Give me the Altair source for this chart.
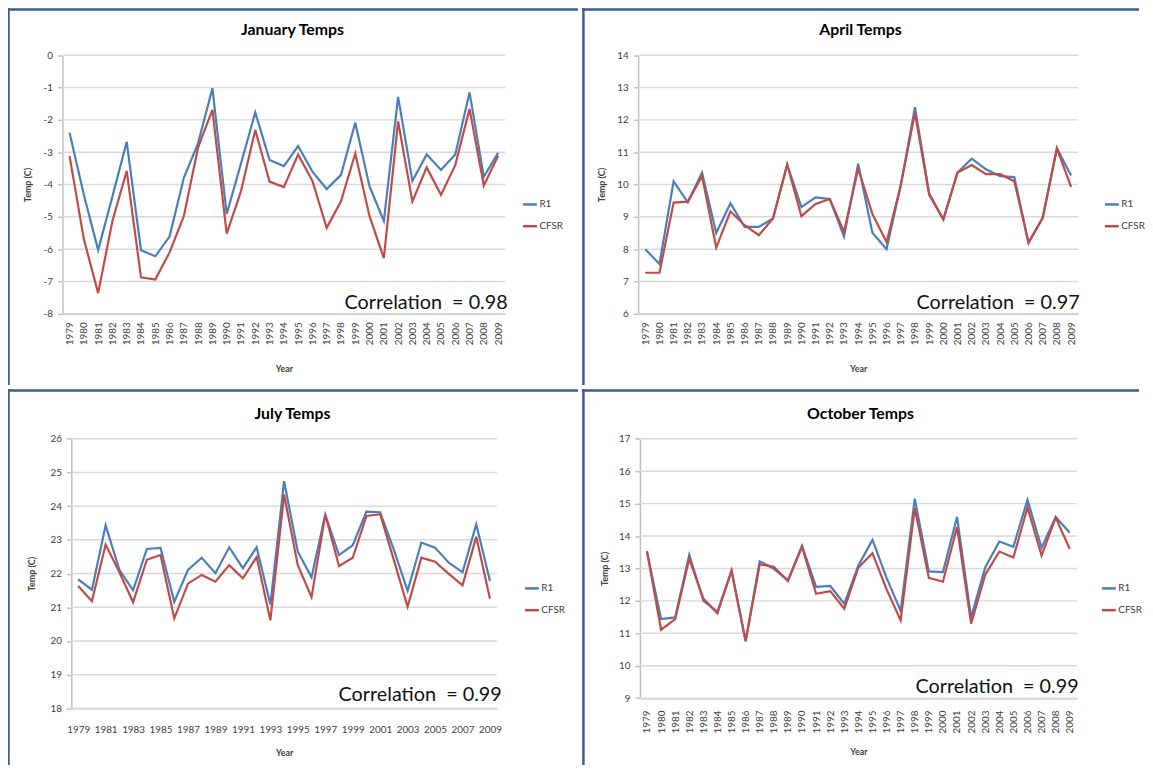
import altair as alt
import pandas as pd

FONT = "Lato"
BORDER = "#3A5F8F"
GRID = "#D9D9D9"
AXIS = "#BFBFBF"
TXT = "#404040"

years = list(range(1979, 2010))
series_names = ["R1", "CFSR"]
series_colors = ["#4A7EBB", "#BE4B48"]

jan_ticks = [-8, -7, -6, -5, -4, -3, -2, -1, 0]
apr_ticks = [6, 7, 8, 9, 10, 11, 12, 13, 14]
jul_ticks = [18, 19, 20, 21, 22, 23, 24, 25, 26]
oct_ticks = [9, 10, 11, 12, 13, 14, 15, 16, 17]

jan_r1 = [-2.40, -4.32, -6.03, -4.37, -2.68, -6.03, -6.22, -5.61, -3.79, -2.72, -1.02,
          -4.91, -3.35, -1.77, -3.24, -3.43, -2.81, -3.60, -4.14, -3.70, -2.09, -4.06,
          -5.13, -1.29, -3.89, -3.07, -3.55, -3.07, -1.15, -3.76, -3.02]
jan_cfsr = [-3.12, -5.69, -7.36, -5.13, -3.58, -6.87, -6.94, -6.10, -4.98, -2.85, -1.69,
            -5.52, -4.21, -2.31, -3.91, -4.08, -3.07, -3.89, -5.34, -4.52, -3.04, -4.98,
            -6.28, -2.05, -4.52, -3.47, -4.32, -3.40, -1.66, -4.03, -3.11]

apr_r1 = [8.00, 7.54, 10.10, 9.45, 10.37, 8.50, 9.42, 8.69, 8.69, 8.95, 10.62,
          9.30, 9.60, 9.55, 8.39, 10.64, 8.51, 8.00, 9.98, 12.39, 9.73, 8.92,
          10.37, 10.80, 10.47, 10.26, 10.23, 8.20, 8.97, 11.12, 10.28]
apr_cfsr = [7.27, 7.27, 9.44, 9.47, 10.26, 8.05, 9.17, 8.74, 8.43, 8.95, 10.62,
            9.02, 9.40, 9.55, 8.53, 10.49, 9.09, 8.22, 9.98, 12.22, 9.68, 8.92,
            10.37, 10.60, 10.32, 10.32, 10.10, 8.20, 8.97, 11.12, 9.93]

jul_r1 = [21.83, 21.52, 23.43, 22.11, 21.50, 22.73, 22.76, 21.16, 22.11, 22.47, 22.01,
          22.78, 22.16, 22.78, 21.08, 24.74, 22.65, 21.89, 23.75, 22.55, 22.84, 23.84,
          23.82, 22.70, 21.49, 22.92, 22.77, 22.32, 22.04, 23.46, 21.78]
jul_cfsr = [21.63, 21.18, 22.86, 22.04, 21.15, 22.41, 22.55, 20.67, 21.70, 21.96, 21.76,
            22.25, 21.86, 22.49, 20.61, 24.34, 22.25, 21.30, 23.75, 22.22, 22.47, 23.71,
            23.76, 22.40, 21.01, 22.47, 22.35, 21.99, 21.65, 23.09, 21.25]

oct_r1 = [13.52, 11.44, 11.49, 13.42, 12.00, 11.67, 12.93, 10.77, 13.22, 12.99, 12.64,
          13.70, 12.43, 12.46, 11.91, 13.09, 13.88, 12.71, 11.69, 15.15, 12.91, 12.89,
          14.59, 11.49, 13.03, 13.83, 13.67, 15.12, 13.64, 14.59, 14.10]
oct_cfsr = [13.54, 11.11, 11.44, 13.30, 12.07, 11.61, 12.93, 10.75, 13.13, 13.05, 12.61,
            13.67, 12.22, 12.30, 11.76, 13.03, 13.47, 12.36, 11.40, 14.86, 12.71, 12.59,
            14.28, 11.30, 12.81, 13.52, 13.34, 14.88, 13.40, 14.57, 13.60]

titles = ["January Temps", "April Temps", "July Temps", "October Temps"]
correlations = ["Correlation\u00a0 = 0.98", "Correlation\u00a0 = 0.97",
                "Correlation\u00a0 = 0.99", "Correlation\u00a0 = 0.99"]


def make_panel(title, r1, cfsr, ticks, corr, width, height, x_range, y_range,
               label_angle, label_years, x_label_pad, x_title_pad, y_title_pad,
               legend_xy, title_y, corr_xy):
    df = pd.DataFrame({
        "Year": years * 2,
        "Series": [series_names[0]] * len(years) + [series_names[1]] * len(years),
        "Temp": r1 + cfsr,
    })
    y_scale = alt.Scale(domain=[ticks[0], ticks[-1]], range=[y_range[0], y_range[1]],
                        nice=False, zero=False)
    y_axis = alt.Axis(values=ticks, grid=False, domainColor=AXIS, domainWidth=1.5,
                      tickColor=AXIS, tickSize=5, tickWidth=1.5, labelFont=FONT,
                      labelFontSize=10, labelColor=TXT, labelPadding=5,
                      labelExpr="datum.value + ''",
                      titleFont=FONT, titleFontSize=9, titleFontWeight="bold",
                      titleColor=TXT, titlePadding=y_title_pad, offset=-x_range[0])
    y_enc = alt.Y("Temp:Q", scale=y_scale, axis=y_axis, title="Temp (C)")

    x_scale = alt.Scale(type="point", padding=0.5, range=[x_range[0], x_range[1]])
    x_axis = alt.Axis(values=label_years, labelAngle=label_angle, ticks=False,
                      grid=False, domainColor=AXIS, domainWidth=1.5,
                      labelFont=FONT, labelFontSize=10, labelColor=TXT,
                      labelPadding=x_label_pad, labelOverlap=False,
                      titleFont=FONT, titleFontSize=9, titleFontWeight="bold",
                      titleColor=TXT, titlePadding=x_title_pad,
                      offset=y_range[0] - height)

    grid = alt.Chart(pd.DataFrame({"Temp": ticks})).mark_rule(
        color=GRID, strokeWidth=1.5
    ).encode(y=y_enc, x=alt.value(x_range[0]), x2=alt.value(x_range[1]))

    lines = alt.Chart(df).mark_line(strokeWidth=2.2).encode(
        x=alt.X("Year:O", scale=x_scale, axis=x_axis, title="Year"),
        y=y_enc,
        color=alt.Color(
            "Series:N",
            scale=alt.Scale(domain=series_names, range=series_colors),
            sort=series_names,
            legend=alt.Legend(title=None, orient="none", direction="vertical",
                              legendX=legend_xy[0], legendY=legend_xy[1],
                              symbolType="stroke", symbolSize=196,
                              symbolStrokeWidth=2.5, labelFont=FONT,
                              labelFontSize=10, labelColor=TXT, rowPadding=8,
                              labelOffset=1, padding=0),
        ),
    )

    title_layer = alt.Chart(pd.DataFrame({"t": [title]})).mark_text(
        font=FONT, fontSize=16, fontWeight="bold", color="black",
        align="center", baseline="middle"
    ).encode(text="t:N", x=alt.value(width / 2), y=alt.value(title_y))

    corr_layer = alt.Chart(pd.DataFrame({"t": [corr]})).mark_text(
        font=FONT, fontSize=20, color="#111111", align="right", baseline="alphabetic"
    ).encode(text="t:N", x=alt.value(corr_xy[0]), y=alt.value(corr_xy[1]))

    bdf = pd.DataFrame({"a": [0]})
    left_border = alt.Chart(bdf).mark_rule(color=BORDER, strokeWidth=2.5).encode(
        x=alt.value(1.5), y=alt.value(0), y2=alt.value(height))
    top_border = alt.Chart(bdf).mark_rule(color=BORDER, strokeWidth=2.5).encode(
        y=alt.value(1.5), x=alt.value(0), x2=alt.value(width))

    return alt.layer(grid, lines, title_layer, corr_layer, left_border, top_border).properties(
        width=width, height=height)


jan = make_panel(titles[0], jan_r1, jan_cfsr, jan_ticks, correlations[0], 577, 381,
                 (56, 503.5), (309, 47.7), 270, years, 8, 20, 11, (520, 190), 22, (506, 304))
apr = make_panel(titles[1], apr_r1, apr_cfsr, apr_ticks, correlations[1], 563, 381,
                 (56.8, 501.5), (309, 47.7), 270, years, 8, 20, 10, (527, 190), 22, (503, 304))
jul = make_panel(titles[2], jul_r1, jul_cfsr, jul_ticks, correlations[2], 577, 380,
                 (65, 495), (322.7, 50.3), 0, years[::2], 16, 15, 14, (522, 193), 25, (500, 315))
octo = make_panel(titles[3], oct_r1, oct_cfsr, oct_ticks, correlations[3], 563, 380,
                  (58.6, 500.1), (312.4, 50.3), 270, years, 12, 15, 9, (524, 193), 25, (502, 307))

top = alt.hconcat(jan, apr, spacing=0).resolve_scale(
    x="independent", y="independent", color="independent").resolve_legend(color="independent")
bottom = alt.hconcat(jul, octo, spacing=0).resolve_scale(
    x="independent", y="independent", color="independent").resolve_legend(color="independent")

chart = alt.vconcat(top, bottom, spacing=0).resolve_scale(
    x="independent", y="independent", color="independent").resolve_legend(
    color="independent").properties(
    padding={"left": -3, "top": -6, "right": 0, "bottom": 0}, background="white"
).configure_view(strokeWidth=0)

chart.save("out.html", embed_options={"renderer": "svg", "actions": False})
